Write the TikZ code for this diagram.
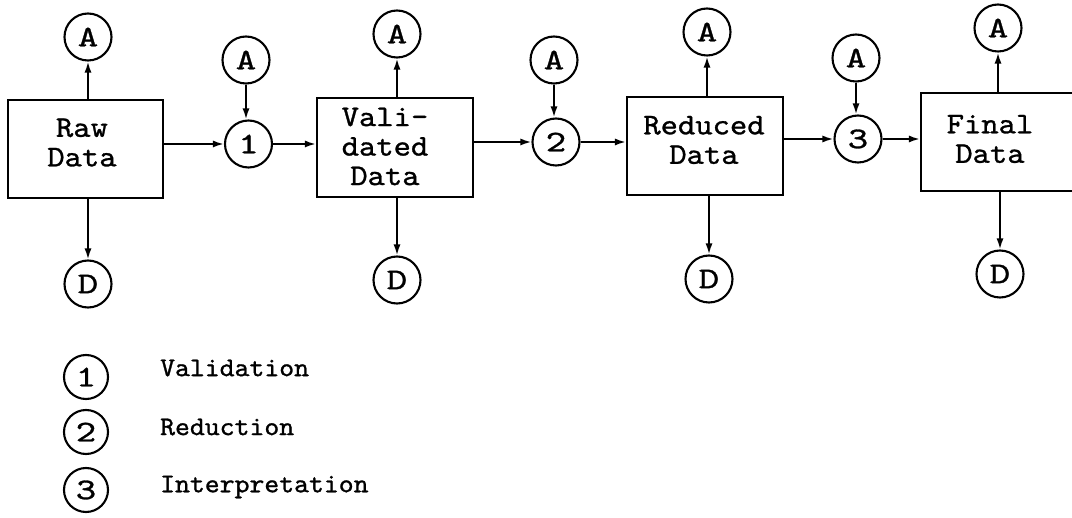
\documentclass[tikz,border=0pt]{standalone}
\usepackage{fontspec}
\usetikzlibrary{arrows.meta}
\newfontfamily\twbox{lmmono10-regular.otf}[FakeBold=1.0,FakeStretch=1.1]
\newfontfamily\twcirc{lmmono10-regular.otf}[FakeBold=1.0,FakeStretch=1.3]
\newfontfamily\twleg{lmmono10-regular.otf}[FakeBold=1.0,FakeStretch=1.05]
\begin{document}
\begin{tikzpicture}[x=1pt,y=-1pt,
  ln/.style={line width=2.1pt},
  blk/.style={draw,ln,rectangle,inner sep=0pt},
  btxt/.style={inner sep=0pt,align=center,font=\twbox\fontsize{30}{29.5}\selectfont},
  rnd/.style={draw,ln,circle,minimum size=47pt,inner sep=0pt,font=\twcirc\fontsize{30}{30}\selectfont},
  arr/.style={line width=1.9pt,-{Latex[length=11pt,width=7pt]}},
  lgd/.style={anchor=west,inner sep=0pt,font=\twleg\fontsize{27}{27}\selectfont}]
\useasboundingbox (0,0) rectangle (1072,518);

% boxes
\node[blk,minimum width=155pt,minimum height=98pt] (raw) at (85.5,149) {};
\node[btxt] (rawtxt) at (82,142.5) {Raw\\Data};
\node[blk,minimum width=156pt,minimum height=99pt] (val) at (395,147.5) {};
\node[btxt] (valtxt) at (385,146.5) {Vali-\\dated\\Data};
\node[blk,minimum width=156pt,minimum height=98pt] (red) at (705,146) {};
\node[btxt] (redtxt) at (704,140) {Reduced\\Data};
\node[blk,minimum width=160pt,minimum height=98pt] (fin) at (1001,142) {};
\node[btxt] (fintxt) at (990,139) {Final\\Data};

% A / D circles of the boxes
\node[rnd] (aRaw) at (88,37) {A};
\node[rnd] (dRaw) at (88,284) {D};
\node[rnd] (aVal) at (397,34) {A};
\node[rnd] (dVal) at (397,280) {D};
\node[rnd] (aRed) at (707,32) {A};
\node[rnd] (dRed) at (709,279) {D};
\node[rnd] (aFin) at (998,28) {A};
\node[rnd] (dFin) at (1000,274) {D};

% process circles
\node[rnd] (c1) at (248.5,144) {1};
\node[rnd] (ac1) at (246,60) {A};
\node[rnd] (c2) at (556,142) {2};
\node[rnd] (ac2) at (554,60) {A};
\node[rnd] (c3) at (858,139) {3};
\node[rnd] (ac3) at (856,58) {A};

% vertical arrows of boxes
\draw[arr] (aRaw |- raw.north) -- (aRaw.south);
\draw[arr] (dRaw |- raw.south) -- (dRaw.north);
\draw[arr] (aVal |- val.north) -- (aVal.south);
\draw[arr] (dVal |- val.south) -- (dVal.north);
\draw[arr] (aRed |- red.north) -- (aRed.south);
\draw[arr] (dRed |- red.south) -- (dRed.north);
\draw[arr] (aFin |- fin.north) -- (aFin.south);
\draw[arr] (dFin |- fin.south) -- (dFin.north);

% A into process circles
\draw[arr] (ac1.south) -- (ac1 |- c1.north);
\draw[arr] (ac2.south) -- (ac2 |- c2.north);
\draw[arr] (ac3.south) -- (ac3 |- c3.north);

% main flow
\draw[arr] (c1 -| raw.east) -- (c1.west);
\draw[arr] (c1.east) -- (c1 -| val.west);
\draw[arr] (c2 -| val.east) -- (c2.west);
\draw[arr] (c2.east) -- (c2 -| red.west);
\draw[arr] (c3 -| red.east) -- (c3.west);
\draw[arr] (c3.east) -- (c3 -| fin.west);

% legend
\node[rnd,minimum size=44pt] (l1) at (86,377) {1};
\node[rnd,minimum size=44pt] (l2) at (86,432) {2};
\node[rnd,minimum size=44pt] (l3) at (86,490) {3};
\node[lgd] (t1) at (160,368) {Validation};
\node[lgd] (t2) at (160,427) {Reduction};
\node[lgd] (t3) at (160,487) {Interpretation};
\end{tikzpicture}
\end{document}
